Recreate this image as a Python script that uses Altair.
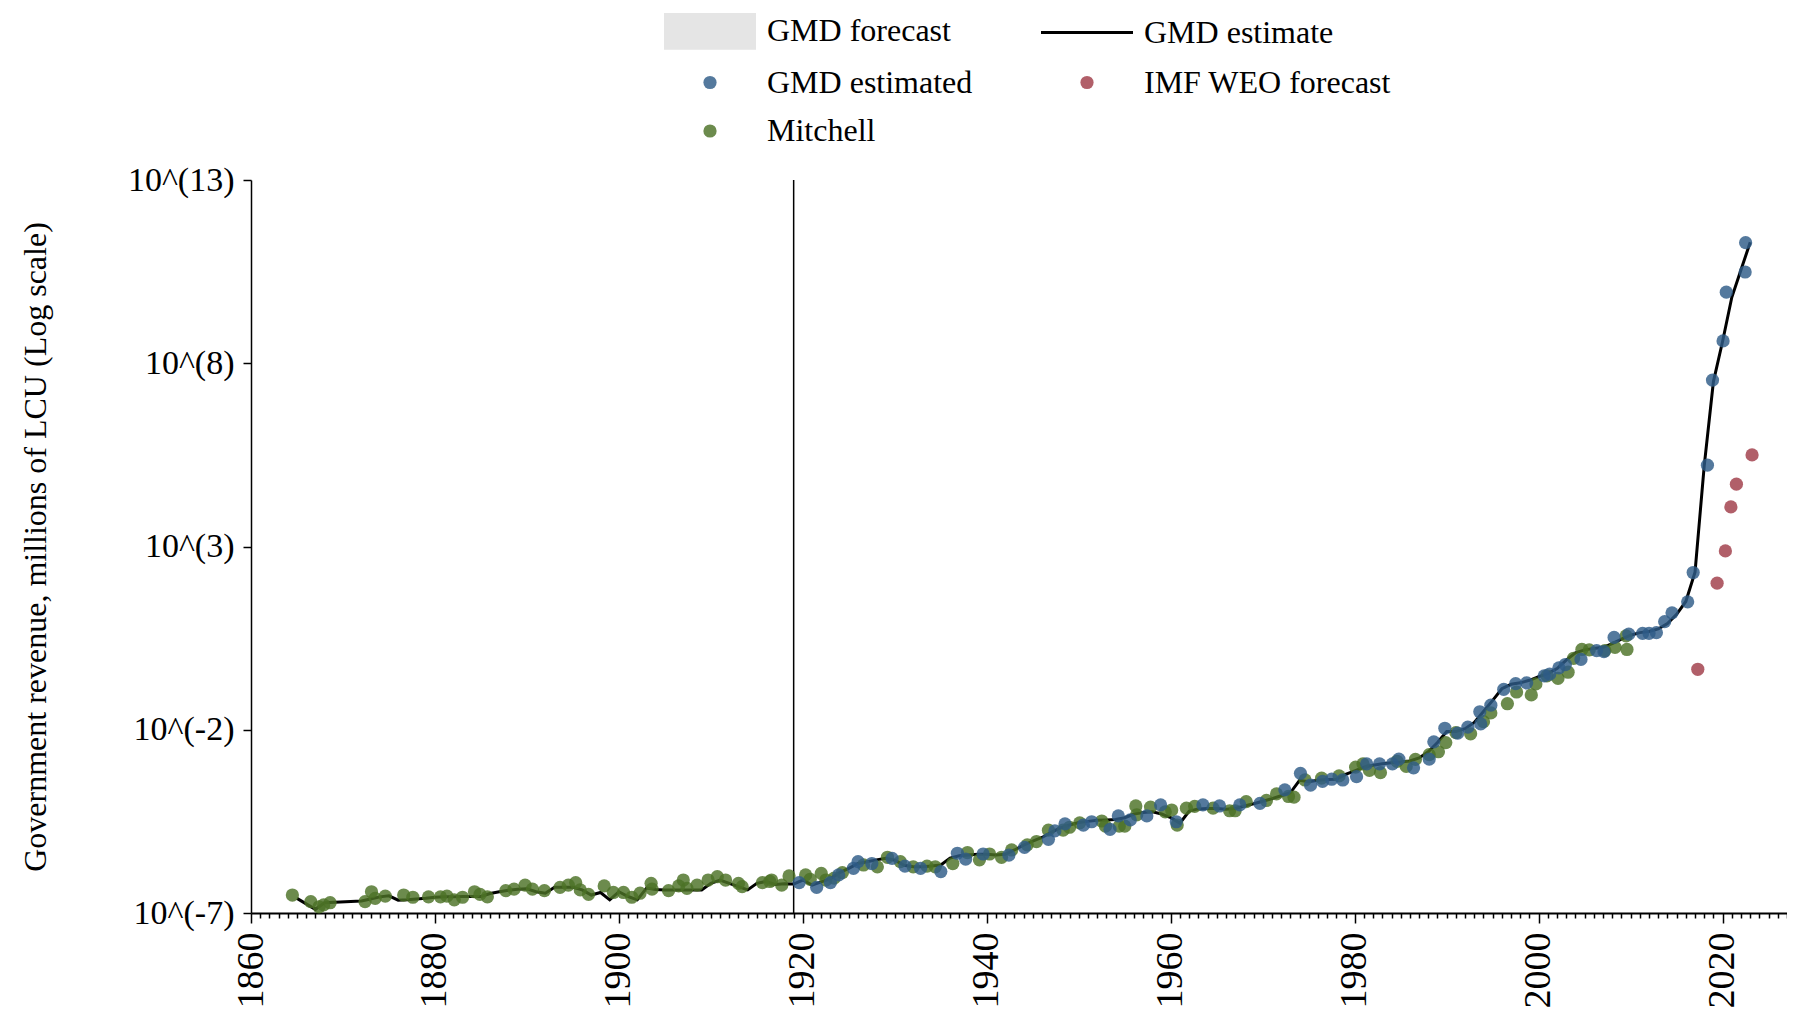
import altair as alt
import numpy as np
import pandas as pd

FONT = "Liberation Serif"

# ---- GMD estimate line (log10 of government revenue, millions of LCU) ----
line_years = ([1865, 1866, 1867, 1868] + list(range(1872, 2024)))
line_log = [
    -6.60, -6.75, -6.90, -6.72,
    # 1872-1916
    -6.67, -6.62, -6.56, -6.53, -6.65, -6.64, -6.62, -6.60, -6.57, -6.56,
    -6.56, -6.55, -6.55, -6.55, -6.47, -6.42, -6.38, -6.35, -6.34, -6.42,
    -6.46, -6.30, -6.30, -6.30, -6.37, -6.51, -6.44, -6.64, -6.42, -6.55,
    -6.64, -6.32, -6.36, -6.37, -6.37, -6.37, -6.37, -6.37, -6.19, -6.10,
    -6.19, -6.28, -6.37, -6.19, -6.14,
    # 1917-1973
    -6.22, -6.20, -6.21, -6.10, -6.24, -6.15, -6.06, -5.90, -5.78, -5.65,
    -5.60, -5.55, -5.51, -5.56, -5.70, -5.74, -5.74, -5.72, -5.69, -5.50,
    -5.44, -5.42, -5.40, -5.40, -5.42, -5.40, -5.28, -5.15, -5.04, -4.94,
    -4.80, -4.68, -4.60, -4.53, -4.50, -4.47, -4.46, -4.45, -4.40, -4.30,
    -4.26, -4.24, -4.30, -4.40, -4.55, -4.22, -4.16, -4.15, -4.15, -4.17,
    -4.15, -4.08, -4.02, -3.95, -3.88, -3.80, -3.72,
    # 1974-2023
    -3.38, -3.42, -3.38, -3.36, -3.35, -3.22, -3.12, -3.02, -2.97, -2.93,
    -2.90, -2.88, -2.85, -2.77, -2.60, -2.35, -2.05, -2.05, -1.97, -1.80,
    -1.50, -1.20, -0.88, -0.76, -0.72, -0.65, -0.55, -0.47, -0.33, -0.10,
    0.10, 0.18, 0.22, 0.25, 0.35, 0.47, 0.58, 0.65, 0.68, 0.75,
    0.90, 1.15, 1.50, 2.30, 5.20, 7.50, 8.60, 9.80, 10.55, 11.30,
]

# ---- Mitchell (green points): year position, log10 value ----
mitchell_x = [
    1864.5, 1866.5, 1867.4, 1867.9, 1868.6, 1872.4, 1873.1, 1873.5, 1874.6, 1876.6,
    1877.6, 1879.3, 1880.6, 1881.3, 1882.1, 1883.0, 1884.3, 1884.9, 1885.7, 1887.7,
    1888.6, 1889.8, 1890.6, 1891.9, 1893.6, 1894.5, 1895.3, 1895.8, 1896.7, 1898.4,
    1899.4, 1900.5, 1901.4, 1902.3, 1903.5, 1903.6, 1905.4, 1906.5, 1907.0, 1907.4,
    1908.5, 1909.7, 1910.7, 1911.6, 1913.0, 1913.4, 1915.6, 1916.4,
    1916.6, 1917.7, 1918.5, 1920.3, 1920.8, 1922.0, 1922.5, 1923.4, 1924.3, 1926.6,
    1928.1, 1929.2, 1930.6, 1932.0, 1933.5, 1934.4, 1936.3, 1937.9, 1939.2, 1940.3,
    1941.6, 1942.7, 1944.4, 1945.4, 1946.7, 1948.3, 1949.0, 1950.1, 1952.5, 1952.9,
    1954.4, 1955.0, 1956.2, 1956.3, 1957.8, 1959.4, 1960.1, 1960.7, 1961.7, 1962.6,
    1964.6, 1966.4, 1967.0, 1968.2, 1970.4, 1971.5, 1972.8,
    1973.4, 1974.6, 1976.4, 1978.3, 1980.1, 1980.9, 1981.6, 1982.8, 1984.6, 1985.6,
    1986.6, 1988.1, 1989.1, 1989.9, 1991.0, 1992.6, 1994.0, 1994.8, 1996.6, 1997.6,
    1999.2, 1999.7, 2000.9, 2002.1, 2003.2, 2003.8, 2004.7, 2005.5, 2007.2, 2008.3,
    2009.5, 2009.6,
]
mitchell_log = [
    -6.51, -6.69, -6.83, -6.78, -6.72, -6.69, -6.42, -6.60, -6.54, -6.51,
    -6.57, -6.56, -6.56, -6.54, -6.64, -6.57, -6.42, -6.49, -6.56, -6.39,
    -6.35, -6.24, -6.35, -6.39, -6.30, -6.24, -6.17, -6.37, -6.49, -6.26,
    -6.44, -6.44, -6.57, -6.46, -6.19, -6.35, -6.39, -6.26, -6.10, -6.33,
    -6.24, -6.10, -6.01, -6.10, -6.19, -6.28, -6.17, -6.14,
    -6.10, -6.24, -5.99, -5.96, -6.08, -5.92, -6.10, -6.05, -5.90, -5.69,
    -5.74, -5.48, -5.60, -5.74, -5.72, -5.74, -5.65, -5.35, -5.55, -5.39,
    -5.48, -5.28, -5.14, -5.05, -4.74, -4.74, -4.66, -4.54, -4.49, -4.63,
    -4.63, -4.63, -4.08, -4.32, -4.11, -4.24, -4.19, -4.60, -4.14, -4.09,
    -4.14, -4.21, -4.21, -3.96, -3.93, -3.75, -3.82,
    -3.84, -3.37, -3.32, -3.26, -3.02, -2.93, -3.11, -3.17, -2.86, -3.00,
    -2.81, -2.68, -2.60, -2.35, -2.08, -2.11, -1.78, -1.54, -1.29, -0.97,
    -1.05, -0.75, -0.53, -0.60, -0.43, -0.05, 0.19, 0.18, 0.16, 0.25,
    0.56, 0.19,
]

# ---- GMD estimated (blue points) ----
gmd_x = [
    1919.6, 1921.5, 1923.0, 1923.9, 1925.5, 1926.0, 1927.5, 1929.7, 1931.1, 1932.8,
    1935.0, 1936.8, 1937.7, 1939.6, 1942.4, 1944.1, 1946.7, 1947.4, 1948.5, 1950.5,
    1951.4, 1953.4, 1954.3, 1955.6, 1957.4, 1958.9, 1960.6, 1963.5, 1965.3, 1967.5,
    1969.7, 1972.4,
    1974.1, 1975.2, 1976.5, 1977.5, 1978.7, 1980.2, 1981.3, 1982.7, 1984.1, 1984.8,
    1986.4, 1988.1, 1988.6, 1989.8, 1991.2, 1992.3, 1993.6, 1993.7, 1994.8, 1996.2,
    1997.5, 1998.7, 2000.6, 2001.2, 2002.2, 2002.9, 2004.6, 2006.3, 2007.1, 2008.2,
    2009.8, 2011.3, 2012.0, 2012.8, 2013.7, 2014.5, 2016.2, 2016.8,
    2018.35, 2018.9, 2020.05, 2020.4, 2022.45, 2022.5,
]
gmd_log = [
    -6.17, -6.30, -6.17, -5.96, -5.78, -5.60, -5.65, -5.51, -5.72, -5.78,
    -5.87, -5.37, -5.53, -5.39, -5.42, -5.21, -4.99, -4.76, -4.57, -4.60,
    -4.51, -4.72, -4.35, -4.46, -4.35, -4.05, -4.51, -4.05, -4.08, -4.05,
    -4.01, -3.64,
    -3.19, -3.51, -3.41, -3.35, -3.37, -3.28, -2.93, -2.93, -2.93, -2.80,
    -3.04, -2.80, -2.33, -1.96, -2.09, -1.93, -1.51, -1.84, -1.33, -0.90,
    -0.74, -0.72, -0.53, -0.48, -0.31, -0.22, -0.08, 0.16, 0.13, 0.52,
    0.61, 0.63, 0.63, 0.65, 0.95, 1.19, 1.49, 2.29,
    5.22, 7.54, 8.61, 9.94, 10.49, 11.29,
]

# ---- IMF WEO forecast (red points) ----
imf_x = [2017.3, 2019.4, 2020.3, 2020.9, 2021.5, 2023.2]
imf_log = [-0.35, 2.00, 2.88, 4.08, 4.70, 5.50]

# vertical reference line
ref_year = [1919]

series_order = ["GMD forecast", "GMD estimate", "GMD estimated", "IMF WEO forecast", "Mitchell"]
series_colors = ["#e5e5e5", "#000000", "#2e5b88", "#a03c48", "#4c7226"]
series_shapes = [
    "M-2.875,-1.15H2.875V1.15H-2.875Z",
    "M-2.875,-0.1H2.875V0.1H-2.875Z",
    "circle", "circle", "circle",
]
series_sizes = [1024, 1024, 175, 175, 175]
series_opacity = [1, 1, 0.82, 0.82, 0.82]

assert len(line_years) == len(line_log)
assert len(mitchell_x) == len(mitchell_log)
assert len(gmd_x) == len(gmd_log)

line_df = pd.DataFrame({"year": line_years, "value": 10.0 ** np.array(line_log)})
pts_df = pd.concat([
    pd.DataFrame({"year": mitchell_x, "value": 10.0 ** np.array(mitchell_log), "series": "Mitchell"}),
    pd.DataFrame({"year": gmd_x, "value": 10.0 ** np.array(gmd_log), "series": "GMD estimated"}),
    pd.DataFrame({"year": imf_x, "value": 10.0 ** np.array(imf_log), "series": "IMF WEO forecast"}),
], ignore_index=True)
rule_df = pd.DataFrame({"year": ref_year})

x_scale = alt.Scale(domain=[1860, 2027], nice=False, zero=False)
y_scale = alt.Scale(type="log", domain=[1e-7, 1e13], nice=False)

x_axis = alt.Axis(
    values=list(range(1860, 2028)),
    format="d",
    labelExpr="datum.value % 20 === 0 ? datum.label : ''",
    labelAngle=-90,
    labelFont=FONT, labelFontSize=38, labelColor="black",
    labelPadding=9, labelFlush=False, labelOverlap=False, labelBound=False,
    tickSize={"condition": {"test": "datum.value % 20 === 0", "value": 10}, "value": 5},
    tickWidth=1.5, tickColor="black",
    domainWidth=2, domainColor="black",
    grid=False, title=None,
)
y_axis = alt.Axis(
    values=[1e-7, 1e-2, 1e3, 1e8, 1e13],
    labelExpr="'10^(' + round(log(datum.value) / LN10) + ')'",
    labelFont=FONT, labelFontSize=34, labelColor="black",
    labelPadding=9, labelFlush=False, labelOverlap=False,
    tickSize=8, tickWidth=1.5, tickColor="black",
    domainWidth=1.5, domainColor="black",
    grid=False,
    title="Government revenue, millions of LCU (Log scale)",
    titleFont=FONT, titleFontSize=32, titleFontWeight="normal", titleColor="black",
    titlePadding=75,
)

X = alt.X("year:Q", scale=x_scale, axis=x_axis)
Y = alt.Y("value:Q", scale=y_scale, axis=y_axis)

line = alt.Chart(line_df).mark_line(color="black", strokeWidth=3).encode(x=X, y=Y)

legend = alt.Legend(
    title=None, orient="none", legendX=413, legendY=-165, columns=2,
    direction="horizontal",
    labelFont=FONT, labelFontSize=32, labelColor="black", labelLimit=0,
    symbolOffset=30, labelOffset=41, columnPadding=68, rowPadding=16.5,
    symbolStrokeWidth=0, padding=0,
)

points = alt.Chart(pts_df).mark_point(filled=True).encode(
    x=X,
    y=Y,
    color=alt.Color("series:N", scale=alt.Scale(domain=series_order, range=series_colors), legend=legend),
    shape=alt.Shape("series:N", scale=alt.Scale(domain=series_order, range=series_shapes), legend=legend),
    size=alt.Size("series:N", scale=alt.Scale(type="ordinal", domain=series_order, range=series_sizes), legend=legend),
    opacity=alt.Opacity("series:N", scale=alt.Scale(type="ordinal", domain=series_order, range=series_opacity), legend=legend),
)

rule = alt.Chart(rule_df).mark_rule(color="black", strokeWidth=1.5).encode(x=X)

chart = alt.layer(rule, line, points).properties(
    width=1536, height=733,
    background="white",
    autosize=alt.AutoSizeParams(type="none"),
    padding={"left": 243, "top": 172, "right": 0, "bottom": 95},
).configure_view(stroke=None, strokeWidth=0)

chart.save("out.html", embed_options={"renderer": "svg", "actions": False})
